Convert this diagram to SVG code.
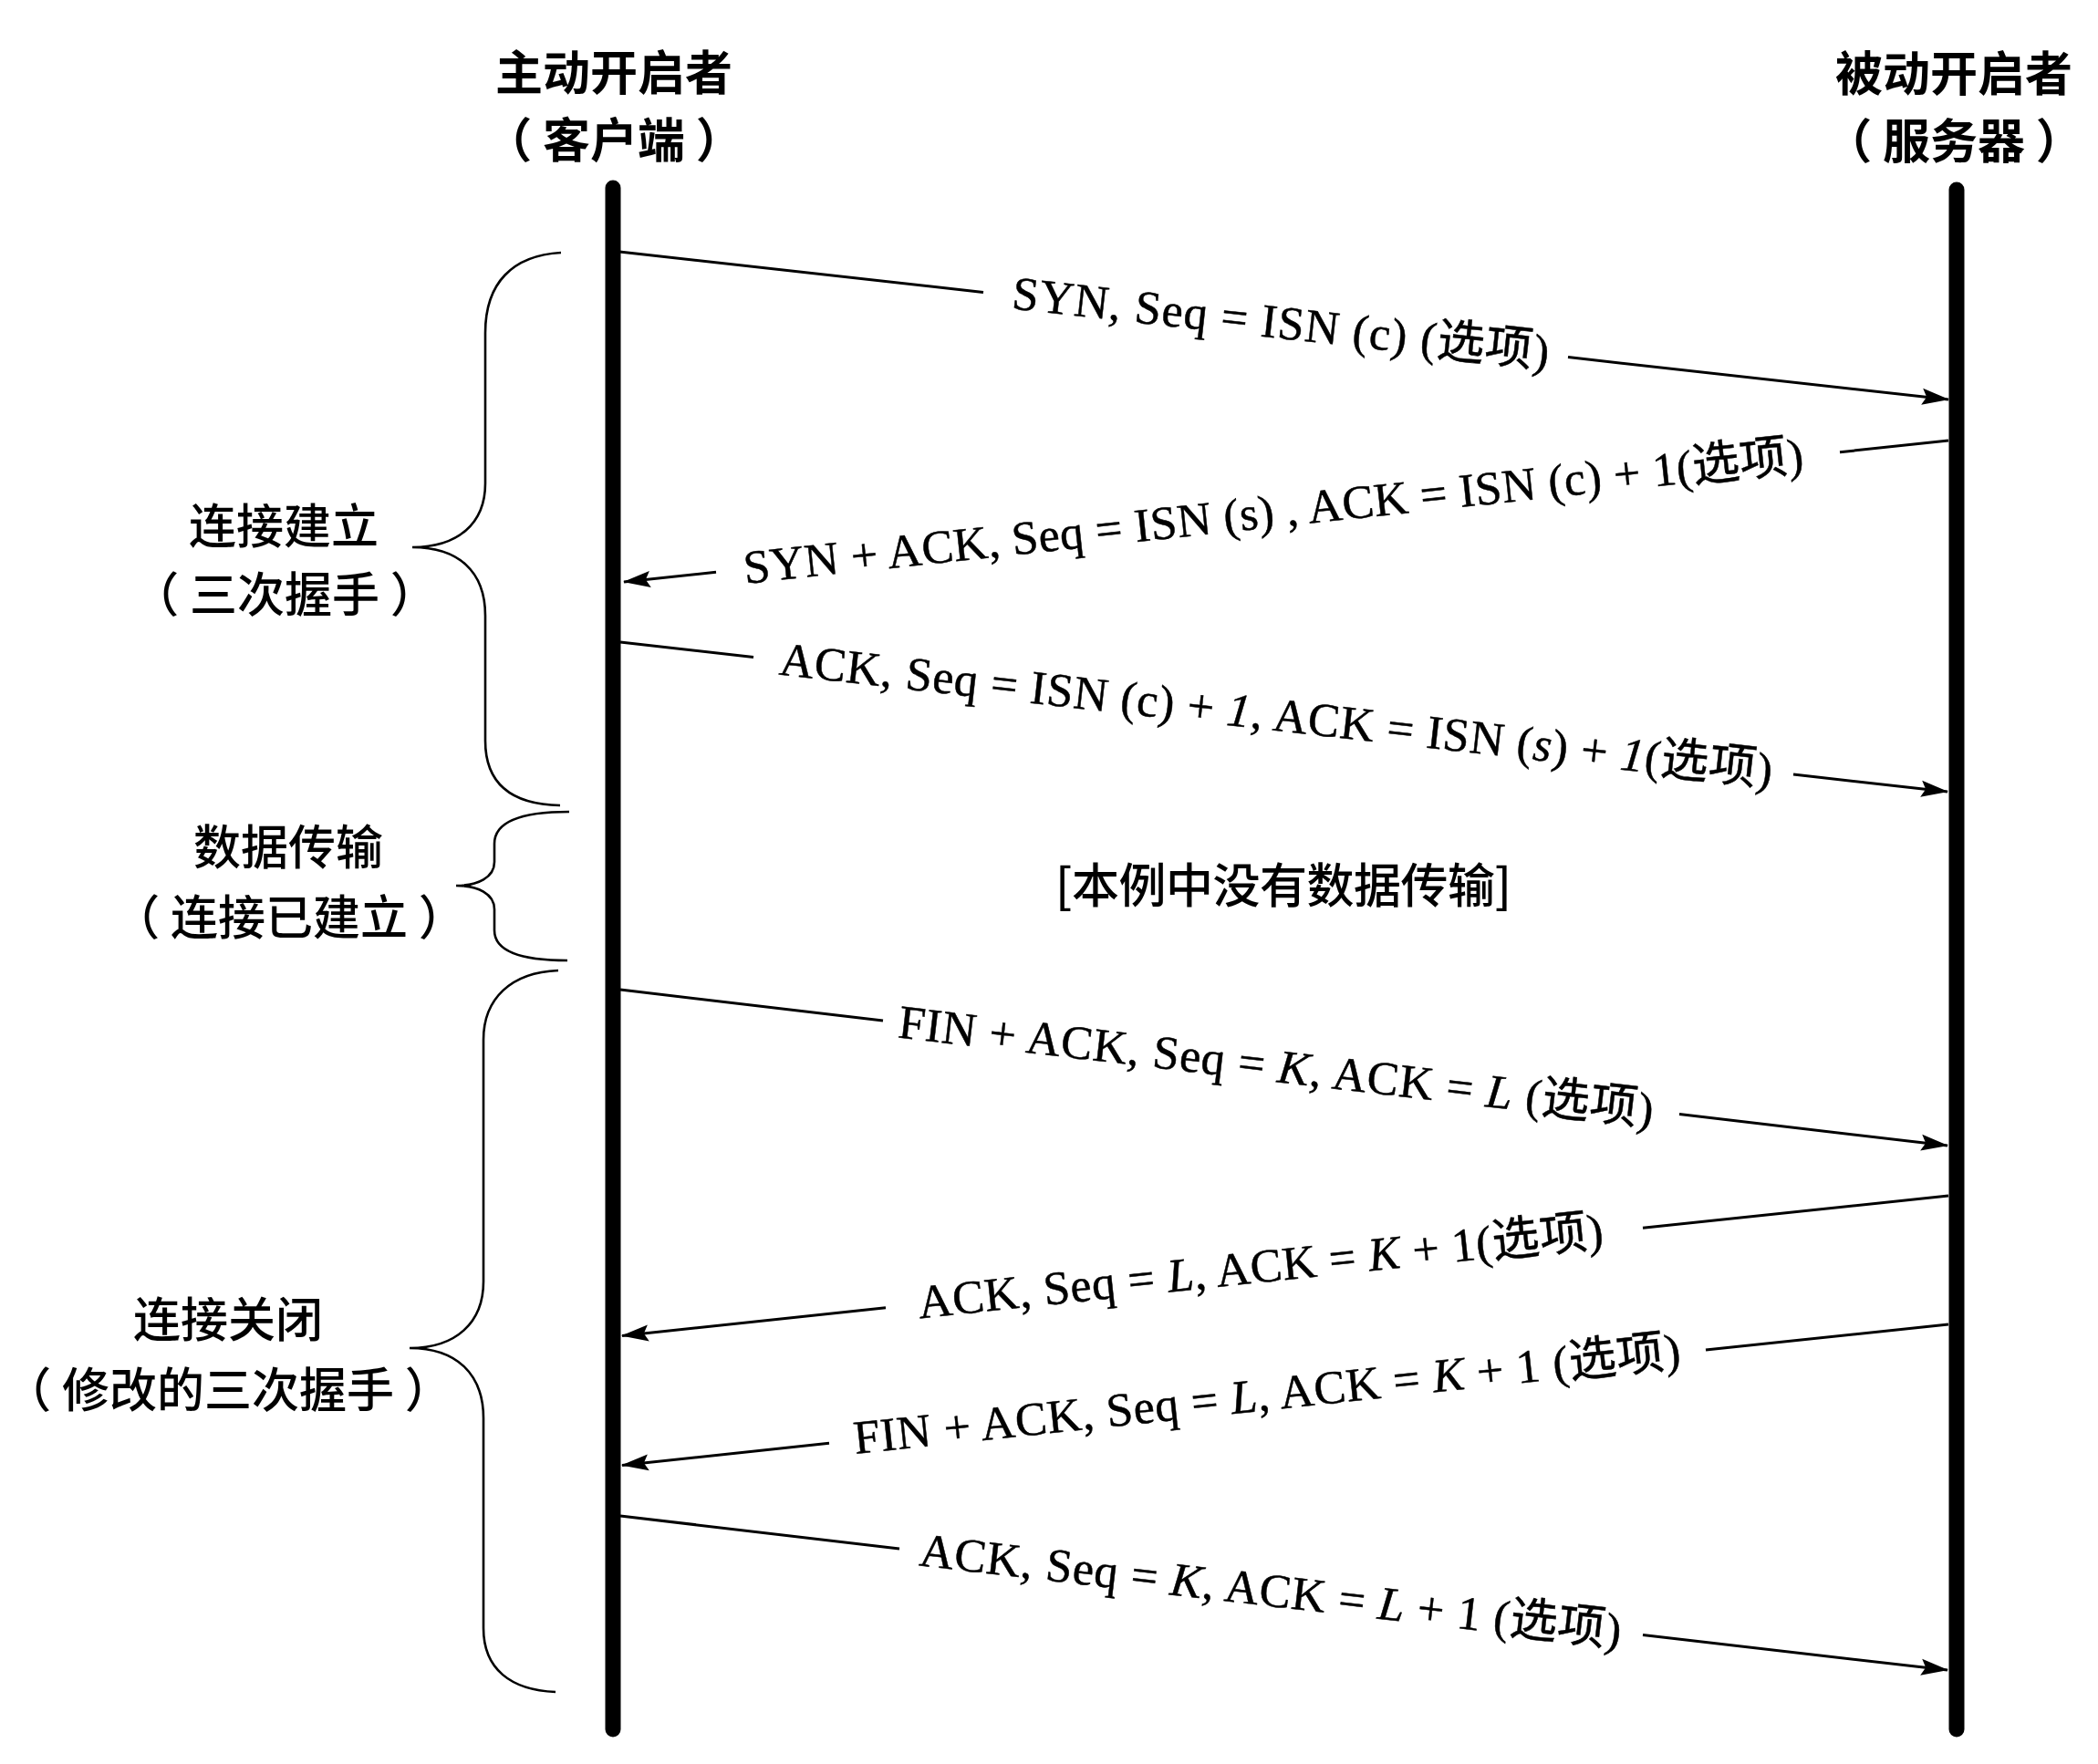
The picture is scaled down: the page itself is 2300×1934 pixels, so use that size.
<svg xmlns="http://www.w3.org/2000/svg" width="2300" height="1934" viewBox="0 0 2300 1934">
<defs>
<marker id="arr" markerUnits="userSpaceOnUse" markerWidth="30" markerHeight="20" viewBox="0 0 30 20" refX="29" refY="10" orient="auto">
<path d="M0,1 L30,10 L0,19 L5,10 z" fill="#000"/>
</marker>
<style>
.hdr{font-family:"Noto Sans CJK SC","Noto Sans",sans-serif;font-size:52px;font-weight:700;fill:#000;text-anchor:middle}
.lbl{font-family:"Noto Sans CJK SC","Noto Sans",sans-serif;font-size:52px;font-weight:500;fill:#000;text-anchor:middle}
.msg{font-family:"Liberation Serif","Noto Sans CJK SC",serif;font-size:52px;fill:#000;stroke:#000;stroke-width:0.5;text-anchor:middle}
.it{font-style:italic}
.life{stroke:#000;stroke-width:17;stroke-linecap:round;fill:none}
.brace{stroke:#000;stroke-width:2.6;fill:none}
.ln{stroke:#000;stroke-width:3;fill:none}
</style>
</defs>
<rect width="2300" height="1934" fill="#fff"/>

<g id="client">
<text class="hdr" x="673" y="99">主动开启者</text>
<text class="hdr" x="673" y="173">（ 客户端 ）</text>
<line class="life" x1="672" y1="206" x2="672" y2="1896"/>
</g>
<g id="server">
<text class="hdr" x="2142" y="100">被动开启者</text>
<text class="hdr" x="2142" y="174">（ 服务器 ）</text>
<line class="life" x1="2145" y1="208" x2="2145" y2="1896"/>
</g>

<g id="phase-setup">
<path class="brace" d="M615,277 C562,280 532,310 532,365 L532,530 C532,574 502,600 452,600 C502,600 532,626 532,675 L532,812 C532,860 562,882 614,883"/>
<text class="lbl" x="311" y="596">连接建立</text>
<text class="lbl" x="312" y="671">（ 三次握手 ）</text>
</g>
<g id="phase-data">
<path class="brace" d="M624,890 C572,890 542,900 542,925 L542,945 C542,962 524,971 500,971 C524,971 542,980 542,997 L542,1020 C542,1043 572,1053 622,1053"/>
<text class="lbl" x="316" y="948">数据传输</text>
<text class="lbl" x="317" y="1025">（ 连接已建立 ）</text>
</g>
<g id="phase-close">
<path class="brace" d="M612,1064 C560,1066 530,1095 530,1140 L530,1405 C530,1450 500,1478 449,1478 C500,1478 530,1506 530,1555 L530,1785 C530,1830 560,1853 609,1855"/>
<text class="lbl" x="250" y="1466">连接关闭</text>
<text class="lbl" x="250" y="1543">（ 修改的三次握手 ）</text>
</g>

<g id="connectors">
<line class="ln" x1="679" y1="276" x2="1078" y2="320.4"/>
<line class="ln" x1="1719" y1="391.6" x2="2136" y2="438" marker-end="url(#arr)"/>
<line class="ln" x1="2136" y1="483" x2="2017" y2="495.7"/>
<line class="ln" x1="785" y1="627.3" x2="684" y2="638" marker-end="url(#arr)"/>
<line class="ln" x1="680" y1="704" x2="826" y2="720.6"/>
<line class="ln" x1="1966" y1="849" x2="2135" y2="868" marker-end="url(#arr)"/>
<line class="ln" x1="680" y1="1085" x2="968" y2="1119"/>
<line class="ln" x1="1841" y1="1221.5" x2="2135" y2="1256" marker-end="url(#arr)"/>
<line class="ln" x1="2136" y1="1311" x2="1801" y2="1346.2"/>
<line class="ln" x1="971" y1="1433.8" x2="682" y2="1464.5" marker-end="url(#arr)"/>
<line class="ln" x1="2136" y1="1452" x2="1870" y2="1480.1"/>
<line class="ln" x1="909" y1="1582.2" x2="682" y2="1606.5" marker-end="url(#arr)"/>
<line class="ln" x1="680" y1="1662" x2="986" y2="1698"/>
<line class="ln" x1="1801" y1="1792.6" x2="2135" y2="1831" marker-end="url(#arr)"/>
</g>

<g id="msg-syn" transform="translate(1404,356) rotate(6.34)">
<text class="msg" x="0" y="15" textLength="592" lengthAdjust="spacing">SYN, Seq = ISN (c) (选项)</text>
</g>
<g id="msg-synack" transform="translate(1396,562) rotate(-6.1)">
<text class="msg" x="0" y="16" textLength="1168" lengthAdjust="spacing">SYN + ACK, Seq = ISN (s) , ACK = ISN (c) + 1(选项)</text>
</g>
<g id="msg-ack" transform="translate(1399,785) rotate(6.43)">
<text class="msg" x="0" y="16" textLength="1095" lengthAdjust="spacing">ACK, Seq = ISN (c) + <tspan class="it">1</tspan>, ACK = ISN (<tspan class="it">s</tspan>) + <tspan class="it">1</tspan>(选项)</text>
</g>
<g id="msg-nodata">
<text class="lbl" x="1407" y="990" textLength="500" lengthAdjust="spacing">[本例中没有数据传输]</text>
</g>
<g id="msg-fin1" transform="translate(1399,1170) rotate(6.7)">
<text class="msg" x="0" y="16" textLength="833" lengthAdjust="spacing">FIN + ACK, Seq = <tspan class="it">K</tspan>, ACK = <tspan class="it">L</tspan> (选项)</text>
</g>
<g id="msg-ack2" transform="translate(1382,1390) rotate(-6.03)">
<text class="msg" x="0" y="16" textLength="755" lengthAdjust="spacing">ACK, Seq = <tspan class="it">L</tspan>, ACK = <tspan class="it">K</tspan> + 1(选项)</text>
</g>
<g id="msg-fin2" transform="translate(1389,1530) rotate(-6.07)">
<text class="msg" x="0" y="16" textLength="911" lengthAdjust="spacing">FIN + ACK, Seq = <tspan class="it">L</tspan>, ACK = <tspan class="it">K</tspan> + 1 (选项)</text>
</g>
<g id="msg-ack3" transform="translate(1393,1745) rotate(6.62)">
<text class="msg" x="0" y="16" textLength="774" lengthAdjust="spacing">ACK, Seq = <tspan class="it">K</tspan>, ACK = <tspan class="it">L</tspan> + 1 (选项)</text>
</g>
</svg>
